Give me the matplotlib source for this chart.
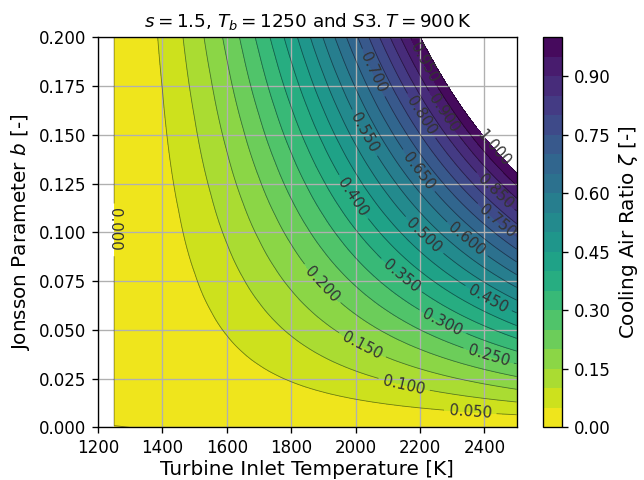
import numpy as np
import matplotlib
matplotlib.use("Agg")
import matplotlib.pyplot as plt

# Turbine inlet temperature samples [K] and the cooling air demand per unit
# Jonsson parameter at each temperature (zeta / b)
turbine_inlet_temp = [1250, 1300, 1350, 1400, 1450, 1500, 1550, 1600, 1650,
                      1700, 1750, 1800, 1850, 1900, 1950, 2000, 2050, 2100,
                      2150, 2200, 2250, 2300, 2350, 2400, 2450, 2500]
zeta_per_b = [0.000, 0.055, 0.156, 0.289, 0.449, 0.631, 0.835, 1.059, 1.302,
              1.561, 1.838, 2.131, 2.439, 2.761, 3.098, 3.449, 3.814, 4.192,
              4.583, 4.986, 5.402, 5.830, 6.270, 6.721, 7.183, 7.657]

# Jonsson parameter range
b_min, b_max = 0.0, 0.2

# Contour levels and colorbar ticks
zeta_levels = [round(0.05 * i, 2) for i in range(21)]
cbar_ticks = [0.00, 0.15, 0.30, 0.45, 0.60, 0.75, 0.90]
x_ticks = [1200, 1400, 1600, 1800, 2000, 2200, 2400]
y_ticks = [0.000, 0.025, 0.050, 0.075, 0.100, 0.125, 0.150, 0.175, 0.200]

# Build the field: cooling air ratio grows linearly with b
T = np.array(turbine_inlet_temp, dtype=float)
b = np.linspace(b_min, b_max, 201)
Z = np.outer(b, np.array(zeta_per_b))

# Where each contour label sits (T [K], b [-]), one per level
label_spots = [(1252, 0.1013), (2356, 0.0081), (2149, 0.0208), (2021, 0.0423),
               (1892, 0.0731), (2413, 0.0367), (2271, 0.0543), (2139, 0.0773),
               (1995, 0.1184), (2413, 0.0663), (2254, 0.1054), (2026, 0.1509),
               (2340, 0.0953), (2186, 0.1304), (2052, 0.1816), (2439, 0.1055),
               (2201, 0.1594), (2428, 0.1201), (2273, 0.1611), (2211, 0.1868),
               (2439, 0.1449)]

fig = plt.figure(figsize=(644 / 120, 480 / 120), dpi=120)
ax = fig.add_axes([0.1522, 0.1094, 0.6500, 0.8129])
cax = fig.add_axes([0.8432, 0.1094, 0.0295, 0.8129])

ax.set_xlim(1200, 2500)
ax.set_ylim(b_min, b_max)

cf = ax.contourf(T, b, Z, levels=zeta_levels, cmap="viridis_r")

# One contour set per level so each label lands on its own line
for lev, spot in zip(zeta_levels, label_spots):
    cs = ax.contour(T, b, Z, levels=[lev], colors=[(0, 0, 0, 0.45)],
                    linewidths=0.5)
    cs.clabel([lev], fmt="%.3f", fontsize=9, manual=[spot],
              inline=True, colors="#333333")

ax.grid(True, color="#b0b0b0", linewidth=0.8)
ax.set_xticks(x_ticks)
ax.set_yticks(y_ticks)
ax.tick_params(labelsize=10)
ax.set_xlabel("Turbine Inlet Temperature [K]", fontsize=12, labelpad=2)
ax.set_ylabel("Jonsson Parameter $b$ [-]", fontsize=12)
ax.set_title(r"$s = 1.5$, $T_b = 1250$ and $S3.T = 900\,\mathrm{K}$", fontsize=11)

cb = fig.colorbar(cf, cax=cax, ticks=cbar_ticks, format="%.2f")
cb.ax.tick_params(labelsize=10)
cb.set_label(r"Cooling Air Ratio $\zeta$ [-]", fontsize=12)

fig.savefig("out.png", dpi=120)
